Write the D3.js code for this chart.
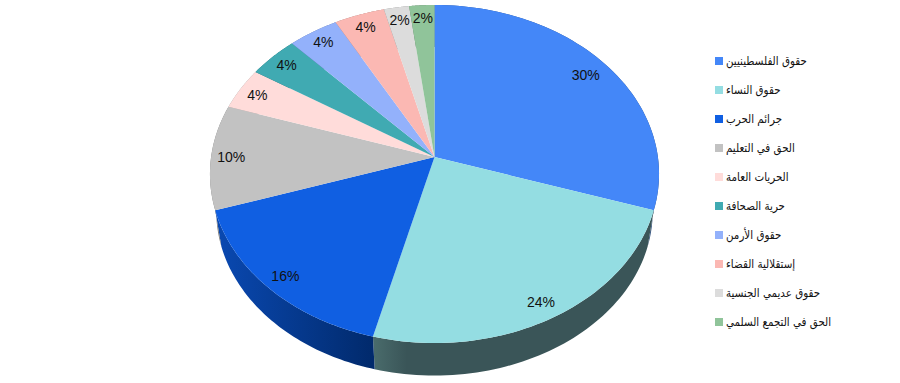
<!DOCTYPE html>
<html>
<head>
<meta charset="utf-8">
<script src="https://cdn.jsdelivr.net/npm/d3@7"></script>
<style>
  html, body { margin: 0; padding: 0; background: #fff; }
  svg { display: block; }
</style>
</head>
<body>
<div id="chart"></div>
<script>
const categories = ['حقوق الفلسطينيين', 'حقوق النساء', 'جرائم الحرب', 'الحق في التعليم', 'الحريات العامة',
    'حرية الصحافة', 'حقوق الأرمن', 'إستقلالية القضاء', 'حقوق عديمي الجنسية', 'الحق في التجمع السلمي'];
const values = [30, 24, 16, 10, 4, 4, 4, 4, 2, 2];
const colors = ['#4487f8', '#94dde2', '#105fe2', '#c2c2c2', '#ffdcda', '#40aab2', '#93b1fb', '#fbb8b3', '#dcdcdc', '#90c49a'];
const sideLight = ['#1f4f9a', '#4a6c6c', '#0a49b2', '#777', '#999', '#2a6a6f', '#5a6fa0', '#a07570', '#888', '#5a7a60'];
const sideDark = ['#2a4a78', '#3a5558', '#012a6c', '#777', '#999', '#2a6a6f', '#5a6fa0', '#a07570', '#888', '#5a7a60'];

const width = 900, height = 383;
const svg = d3.select('#chart').append('svg').attr('width', width).attr('height', height);
const defs = svg.append('defs');

// 透视投影：圆盘 -> 屏幕
const cx = 434.5, cy = 157;
const a = 223.4, b = 167.3, k = 0.1006;
const depthShift = 37.7, depthScale = 0.972;

function project(angle, r = 1) {
    const u = r * Math.sin(angle), v = -r * Math.cos(angle);
    const w = 1 - k * v;
    return [cx + a * u / w, cy + b * v / w];
}
function projectBottom(angle) {
    const [x, y] = project(angle);
    return [cx + (x - cx) * depthScale, cy + depthShift + (y - cy) * depthScale];
}

const pie = d3.pie().sort(null).value(d => d);
const arcs = pie(values);
const line = d3.line();

function sampleAngles(a0, a1) {
    return d3.range(0, 61).map(i => a0 + (a1 - a0) * i / 60);
}

// 侧面
const sides = svg.append('g');
arcs.forEach((d, i) => {
    const angles = sampleAngles(d.startAngle, d.endAngle);
    const topPts = angles.map(t => project(t));
    const botPts = angles.map(projectBottom).reverse();
    const xs = topPts.map(p => p[0]);
    const grad = defs.append('linearGradient')
        .attr('id', `side-${i}`)
        .attr('gradientUnits', 'userSpaceOnUse')
        .attr('x1', d3.min(xs)).attr('x2', d3.max(xs))
        .attr('y1', 0).attr('y2', 0);
    if (i === 1) {
        // 青色片段的左端才变亮
        grad.append('stop').attr('offset', 0).attr('stop-color', sideLight[i]);
        grad.append('stop').attr('offset', 0.12).attr('stop-color', sideDark[i]);
        grad.append('stop').attr('offset', 1).attr('stop-color', sideDark[i]);
    } else {
        grad.append('stop').attr('offset', 0).attr('stop-color', sideLight[i]);
        grad.append('stop').attr('offset', 1).attr('stop-color', sideDark[i]);
    }
    sides.append('path')
        .attr('d', line([...topPts, ...botPts]) + 'Z')
        .attr('fill', `url(#side-${i})`);
});

// 顶面
const faces = svg.append('g');
arcs.forEach((d, i) => {
    const pts = sampleAngles(d.startAngle, d.endAngle).map(t => project(t));
    faces.append('path')
        .attr('d', line([[cx, cy], ...pts]) + 'Z')
        .attr('fill', colors[i]);
});

// 百分比标签
const labels = svg.append('g')
    .attr('font-family', '"Liberation Sans", Arial, sans-serif')
    .attr('font-size', 14)
    .attr('fill', '#111')
    .attr('text-anchor', 'middle');
arcs.forEach((d, i) => {
    const r = i === 0 ? 0.88 : 0.91;
    const [x, y] = project((d.startAngle + d.endAngle) / 2, r);
    labels.append('text')
        .attr('x', x).attr('y', y)
        .attr('dominant-baseline', 'central')
        .text(`${d.value}%`);
});

// 图例
const legendY = d3.scalePoint().domain(categories).range([61, 322]);
const legendTextScale = 0.86;
const legend = svg.append('g');
categories.forEach((c, i) => {
    const y = legendY(c);
    legend.append('rect')
        .attr('x', 715).attr('y', y - 4).attr('width', 8).attr('height', 8)
        .attr('fill', colors[i]);
    // DejaVu 的阿拉伯字形偏宽，横向压缩一点
    legend.append('text')
        .attr('transform', `translate(726,${y}) scale(${legendTextScale},1)`)
        .attr('dominant-baseline', 'central')
        .attr('direction', 'rtl')
        .attr('text-anchor', 'end')
        .attr('font-family', '"DejaVu Sans", sans-serif')
        .attr('font-size', 12)
        .attr('fill', '#111')
        .text(c);
});
</script>
</body>
</html>
